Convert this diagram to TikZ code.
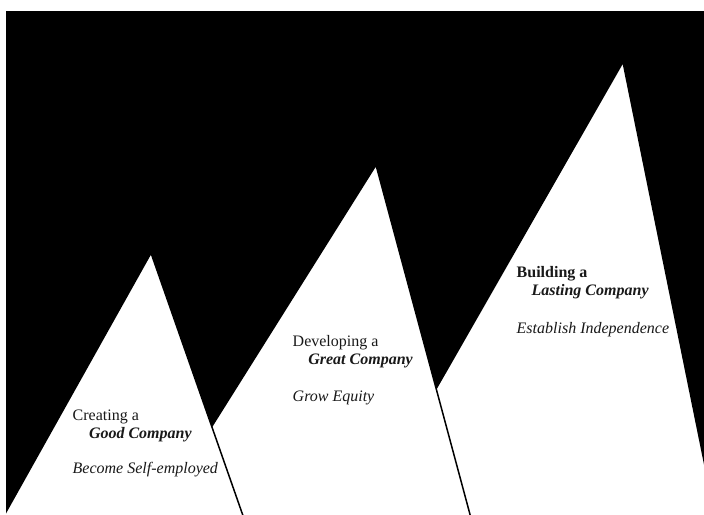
\documentclass[tikz,border=0pt]{standalone}
\usepackage{fontspec}
\setmainfont{Liberation Serif}
\begin{document}
\begin{tikzpicture}[x=1pt,y=-1pt,
  peak/.style={fill=white,draw=black,line width=1.5pt,line join=round},
  label/.style={anchor=base west,inner sep=0pt,outer sep=0pt,
    font=\fontsize{16}{19}\selectfont,text=black!90}]
  % page and dark backdrop
  \fill[white] (0,0) rectangle (704,514);
  \useasboundingbox (0,0) rectangle (704,514);
  \begin{scope}
    \clip (6,11) rectangle (704,514);
    \fill[black] (6,11) rectangle (704,514);
    % three mountains, back to front
    \draw[peak] (361,520) -- (623,62) -- (716,520) -- cycle;
    \draw[peak] (153,520) -- (376,165) -- (471.5,520) -- cycle;
    \draw[peak] (1.5,520) -- (151,253) -- (244.5,520) -- cycle;
  \end{scope}
  % first mountain
  \node[label] (c1) at (72.7,420) {Creating a};
  \node[label] (c2) at (89,438.3) {\textbf{\textit{Good Company}}};
  \node[label] (c3) at (72.7,473.3) {\textit{Become Self-employed}};
  % second mountain
  \node[label] (d1) at (292.7,346) {Developing a};
  \node[label] (d2) at (308.3,364.3) {\textbf{\textit{Great Company}}};
  \node[label] (d3) at (292.7,401) {\textit{Grow Equity}};
  % third mountain
  \node[label] (b1) at (516.7,277.3) {\textbf{Building a}};
  \node[label] (b2) at (531.7,295.7) {\textbf{\textit{Lasting Company}}};
  \node[label] (b3) at (516.7,333.3) {\textit{Establish Independence}};
\end{tikzpicture}
\end{document}
